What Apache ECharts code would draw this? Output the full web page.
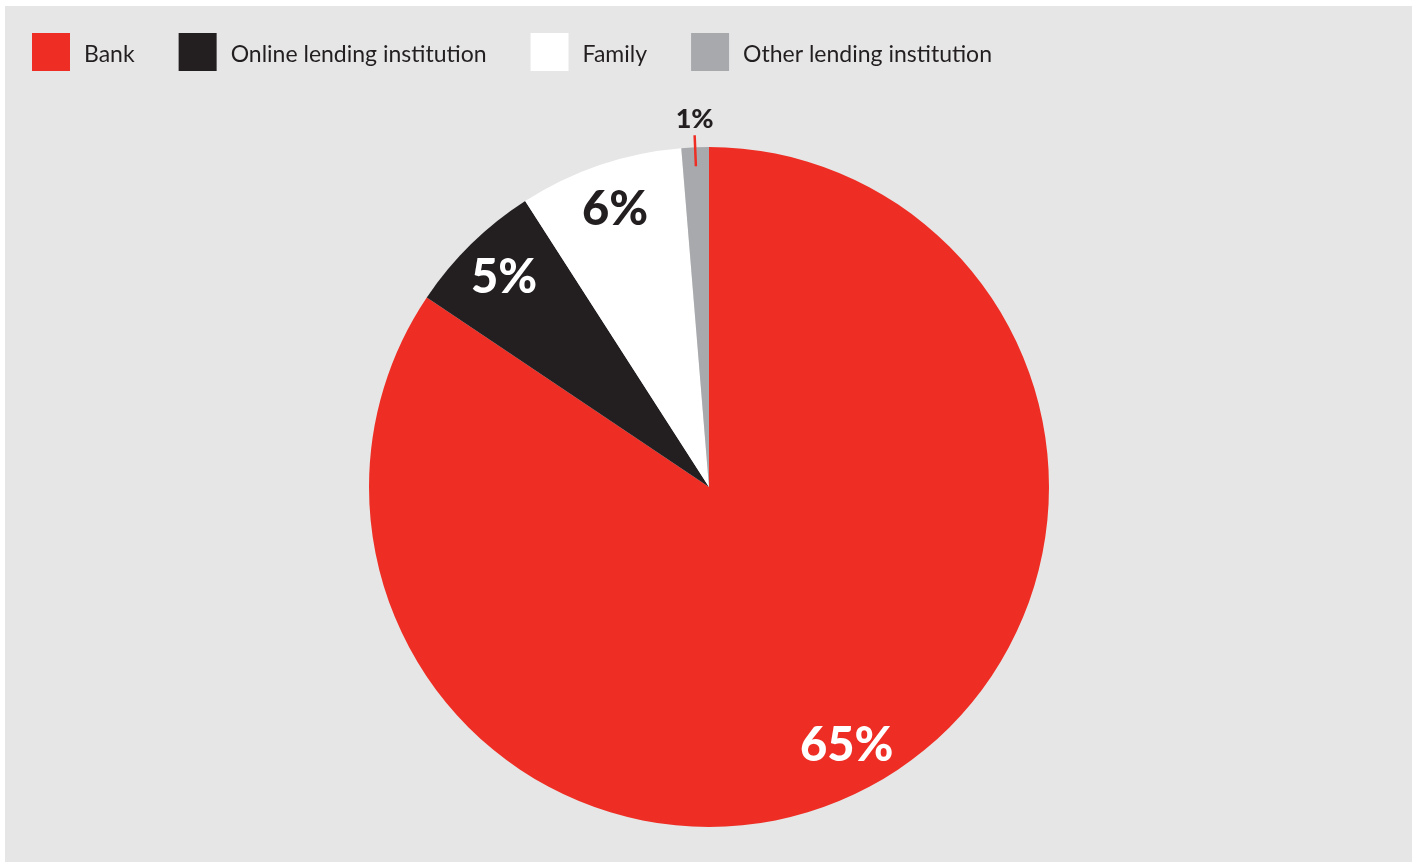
<!DOCTYPE html>
<html>
<head>
<meta charset="utf-8">
<title>Loan sources</title>
<script src="https://cdn.jsdelivr.net/npm/echarts@6/dist/echarts.min.js"></script>
<style>
  html, body { margin: 0; padding: 0; background: #ffffff; }
  #chart { position: absolute; left: 5px; top: 6px; width: 1407px; height: 856px; background: #e6e6e6; }
</style>
</head>
<body>
<div id="chart"></div>
<script>
// Where the money came from
const categories = ['Bank', 'Online lending institution', 'Family', 'Other lending institution'];
const shares = [65, 5, 6, 1];
const sliceColors = ['#ee2e24', '#231f20', '#ffffff', '#a7a9ac'];
const labelColors = ['#ffffff', '#ffffff', '#231f20', '#231f20'];

const FONT = 'Lato, "Open Sans", sans-serif';
const CENTER = [704, 481];

const chart = echarts.init(document.getElementById('chart'), null, { renderer: 'canvas' });

// Solid slices
const sliceData = categories.map((name, i) => ({
  name: name,
  value: shares[i],
  itemStyle: { color: sliceColors[i] }
}));

// Transparent ring that only carries the percentage labels
const labelData = categories.map((name, i) => {
  const tiny = shares[i] < 2;
  return {
    name: name,
    value: shares[i],
    itemStyle: { color: 'rgba(0,0,0,0)' },
    label: tiny
      ? { position: 'outside', color: labelColors[i], fontSize: 27, fontWeight: 900 }
      : { position: 'inside', color: labelColors[i], fontSize: 47, fontWeight: 900 },
    labelLine: { show: tiny }
  };
});

chart.setOption({
  animation: false,
  legend: {
    left: 27,
    top: 27,
    padding: 0,
    icon: 'rect',
    itemWidth: 38,
    itemHeight: 38,
    itemGap: 44,
    selectedMode: false,
    data: categories,
    formatter: '{n|{name}}',
    textStyle: {
      fontFamily: FONT,
      fontSize: 23,
      color: '#231f20',
      rich: {
        n: { fontFamily: FONT, fontSize: 23, color: '#231f20', padding: [6, 0, 0, 9] }
      }
    }
  },
  series: [
    {
      type: 'pie',
      center: CENTER,
      radius: [0, 340],
      startAngle: 90,
      clockwise: true,
      silent: true,
      label: { show: false },
      labelLine: { show: false },
      data: sliceData
    },
    {
      type: 'pie',
      center: CENTER,
      radius: [259, 321],
      startAngle: 90,
      clockwise: true,
      silent: true,
      avoidLabelOverlap: false,
      z: 5,
      label: {
        show: true,
        fontFamily: FONT,
        formatter: '{c}%'
      },
      labelLine: {
        length: 31,
        length2: 0,
        lineStyle: { color: '#ee2e24', width: 2.5 }
      },
      // the small slice's label sits centred above the end of its guide line
      labelLayout: function (params) {
        if (params.dataIndex !== 3 || !params.labelLinePoints) return {};
        const pts = params.labelLinePoints;
        const end = pts[pts.length - 1];
        return {
          x: end[0],
          y: end[1] - 2,
          align: 'center',
          verticalAlign: 'bottom',
          labelLinePoints: pts
        };
      },
      data: labelData
    }
  ]
});
</script>
</body>
</html>
